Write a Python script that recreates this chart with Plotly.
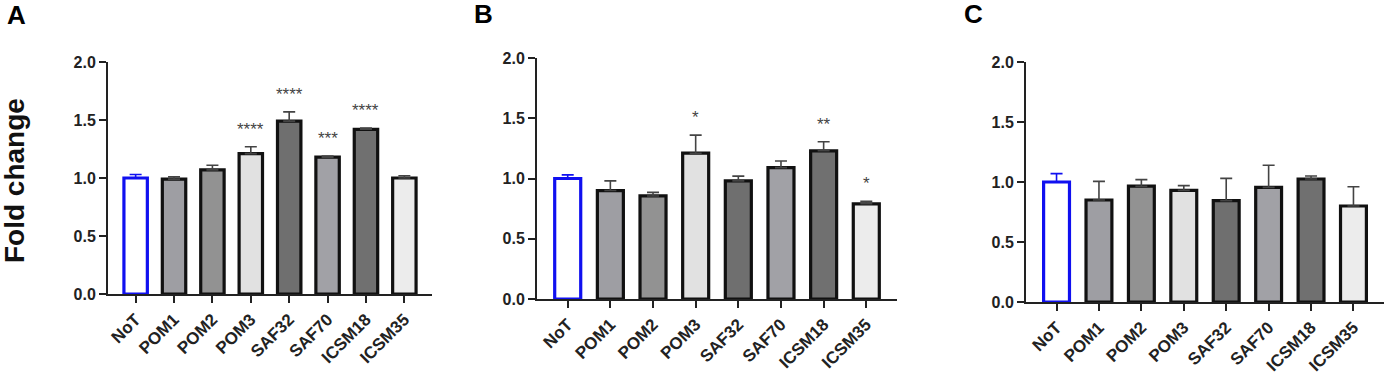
import plotly.graph_objects as go

W, H = 1394, 386

categories = ["NoT", "POM1", "POM2", "POM3", "SAF32", "SAF70", "ICSM18", "ICSM35"]
bar_colors = ["#ffffff", "#9e9ea3", "#929292", "#e1e1e1", "#6f6f6f", "#a1a1a6", "#707070", "#ececec"]

a_mean = [1.00, 0.99, 1.07, 1.21, 1.49, 1.18, 1.42, 1.00]
a_err = [0.03, 0.02, 0.04, 0.06, 0.08, 0.01, 0.01, 0.02]
a_sig = ["", "", "", "****", "****", "***", "****", ""]

b_mean = [1.00, 0.90, 0.855, 1.21, 0.98, 1.09, 1.23, 0.79]
b_err = [0.03, 0.08, 0.03, 0.15, 0.04, 0.055, 0.075, 0.02]
b_sig = ["", "", "", "*", "", "", "**", "*"]

c_mean = [1.00, 0.85, 0.965, 0.93, 0.845, 0.955, 1.025, 0.80]
c_err = [0.07, 0.155, 0.055, 0.04, 0.185, 0.185, 0.025, 0.16]
c_sig = ["", "", "", "", "", "", "", ""]

y_ticks = [0.0, 0.5, 1.0, 1.5, 2.0]
y_ticktext = ["0.0", "0.5", "1.0", "1.5", "2.0"]

panels = [
    ("A", a_mean, a_err, a_sig, (108, 432), (294, 62), (16, 15)),
    ("B", b_mean, b_err, b_sig, (537, 897), (299, 58), (483, 14)),
    ("C", c_mean, c_err, c_sig, (1026, 1384), (302, 62), (973, 14)),
]

FONT = "Arial, Liberation Sans, sans-serif"
BLUE = "#1010f0"

fig = go.Figure()
layout = dict(
    width=W, height=H, margin=dict(l=0, r=0, t=0, b=0, autoexpand=False),
    paper_bgcolor="white", plot_bgcolor="white",
    showlegend=False, barmode="overlay",
    font=dict(family=FONT, color="#222"),
    annotations=[],
)

xs = list(range(len(categories)))
for k, (letter, mean, err, sig, (x0, x1), (yb, yt), (lx, ly)) in enumerate(panels):
    sfx = "" if k == 0 else str(k + 1)
    xa, ya = "x" + sfx, "y" + sfx
    fig.add_trace(go.Bar(
        x=xs[:1], y=mean[:1], width=0.61, xaxis=xa, yaxis=ya,
        marker=dict(color=bar_colors[0], line=dict(color=BLUE, width=3.2)),
        error_y=dict(type="data", symmetric=False, array=err[:1], arrayminus=[0],
                     color=BLUE, thickness=1.6, width=6),
    ))
    fig.add_trace(go.Bar(
        x=xs[1:], y=mean[1:], width=0.61, xaxis=xa, yaxis=ya,
        marker=dict(color=bar_colors[1:], line=dict(color="#111", width=3.2)),
        error_y=dict(type="data", symmetric=False, array=err[1:], arrayminus=[0] * 7,
                     color="#444", thickness=1.6, width=6),
    ))
    layout["xaxis" + sfx] = dict(
        domain=[x0 / W, x1 / W], anchor=ya, range=[-0.72, 7.72],
        tickmode="array", tickvals=xs, ticktext=categories, tickangle=-45,
        ticks="outside", ticklen=7, tickwidth=2, tickcolor="#222",
        showline=True, linecolor="#222", linewidth=2, showgrid=False, zeroline=False,
        tickfont=dict(family=FONT, size=17, color="#222", weight="bold"),
        automargin=False, fixedrange=True,
    )
    layout["yaxis" + sfx] = dict(
        domain=[1 - yb / H, 1 - yt / H], anchor=xa, range=[0, 2.0],
        tickmode="array", tickvals=y_ticks, ticktext=y_ticktext,
        ticks="outside", ticklen=7, tickwidth=2, tickcolor="#222",
        showline=True, linecolor="#222", linewidth=2, showgrid=False, zeroline=False,
        tickfont=dict(family=FONT, size=16, color="#222", weight="bold"),
        automargin=False, fixedrange=True,
    )
    for i, s in enumerate(sig):
        if s:
            layout["annotations"].append(dict(
                x=i, y=mean[i] + err[i] + 0.05, xref=xa, yref=ya, text=s,
                showarrow=False, yanchor="bottom",
                font=dict(family=FONT, size=17, color="#444"),
            ))
    layout["annotations"].append(dict(
        x=lx / W, y=1 - ly / H, xref="paper", yref="paper", text="<b>" + letter + "</b>",
        showarrow=False, xanchor="center", yanchor="middle",
        font=dict(family=FONT, size=26, color="#000"),
    ))

layout["annotations"].append(dict(
    x=14 / W, y=1 - 181 / H, xref="paper", yref="paper", text="<b>Fold change</b>",
    showarrow=False, textangle=-90, xanchor="center", yanchor="middle",
    font=dict(family=FONT, size=28, color="#111"),
))

fig.update_layout(**layout)
fig.write_html(
    "out.html",
    config={"displayModeBar": False, "staticPlot": True},
    post_script="document.body.style.margin='0';document.body.style.padding='0';",
)
